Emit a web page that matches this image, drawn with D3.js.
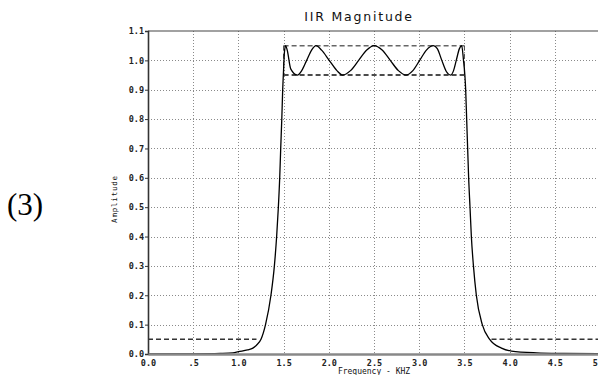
<!DOCTYPE html>
<html>
<head>
<meta charset="utf-8">
<script src="https://cdn.jsdelivr.net/npm/d3@7"></script>
<style>
  body { margin: 0; background: #fff; }
  svg { display: block; }
</style>
</head>
<body>
<div id="chart"></div>
<script>
// frequency (kHz) and magnitude
var freq = [0.0, 0.5, 0.8, 0.94, 1.0, 1.1, 1.16, 1.2, 1.25, 1.3, 1.36, 1.398, 1.423, 1.442, 1.457, 1.468, 1.48, 1.49,
  1.50, 1.51, 1.523, 1.54, 1.58, 1.652, 1.70, 1.755, 1.81, 1.858, 1.92, 2.005, 2.09, 2.153, 2.24, 2.33, 2.42, 2.50,
  2.59, 2.68, 2.77, 2.854, 2.93, 3.005, 3.08, 3.156, 3.20, 3.25, 3.30, 3.348, 3.38, 3.41, 3.445, 3.47, 3.49, 3.505,
  3.514, 3.525, 3.536, 3.547, 3.562, 3.577, 3.60, 3.632, 3.698, 3.78, 3.91, 4.02, 4.3, 4.6, 5.0];
var amplitude = [0.0, 0.0005, 0.002, 0.004, 0.008, 0.014, 0.02, 0.03, 0.05, 0.10, 0.20, 0.30, 0.40, 0.50, 0.60, 0.70, 0.80, 0.90,
  0.97, 1.03, 1.05, 1.035, 0.97, 0.95, 0.965, 1.0, 1.035, 1.05, 1.035, 1.0, 0.965, 0.95, 0.965, 1.0, 1.035, 1.05,
  1.035, 1.0, 0.965, 0.95, 0.965, 1.0, 1.035, 1.05, 1.04, 1.0, 0.962, 0.95, 0.965, 1.0, 1.04, 1.05, 1.0, 0.95,
  0.90, 0.80, 0.70, 0.60, 0.50, 0.40, 0.30, 0.20, 0.10, 0.05, 0.02, 0.01, 0.004, 0.002, 0.001];

// specification lines: passband 0.95..1.05 from 1.5 to 3.5, stopband 0.05
var passbandEdges = [1.5, 3.5];
var passbandLimits = [0.95, 1.05];
var stopbandLevel = 0.05;
var stopbandRanges = [[0.0, 1.2], [3.8, 5.0]];

var xTicks = [0.0, 0.5, 1.0, 1.5, 2.0, 2.5, 3.0, 3.5, 4.0, 4.5, 5.0];
var xTickLabels = ['0.0', '.5', '1.0', '1.5', '2.0', '2.5', '3.0', '3.5', '4.0', '4.5', '5.0'];
var yTicks = [0.0, 0.1, 0.2, 0.3, 0.4, 0.5, 0.6, 0.7, 0.8, 0.9, 1.0, 1.1];

var WIDTH = 598;
var HEIGHT = 375;
var PLOT = { left: 148, right: 600, top: 31, bottom: 354 };
var TICK_FONT = '"DejaVu Sans Mono", monospace';

var svg = d3.select('#chart').append('svg')
  .attr('width', WIDTH)
  .attr('height', HEIGHT);

var xScale = d3.scaleLinear().domain([0, 5]).range([PLOT.left, PLOT.right]);
var yScale = d3.scaleLinear().domain([0, 1.1]).range([PLOT.bottom, PLOT.top]);

/** grid */
var grid = svg.append('g')
  .attr('stroke', '#8a8a8a')
  .attr('stroke-width', 1)
  .attr('stroke-dasharray', '1,2');
grid.selectAll('.vgrid').data(xTicks.slice(1, -1)).enter().append('line')
  .attr('x1', function (d) { return Math.round(xScale(d)) + 0.5; })
  .attr('x2', function (d) { return Math.round(xScale(d)) + 0.5; })
  .attr('y1', PLOT.top)
  .attr('y2', PLOT.bottom);
grid.selectAll('.hgrid').data(yTicks.slice(1, -1)).enter().append('line')
  .attr('x1', PLOT.left)
  .attr('x2', PLOT.right)
  .attr('y1', function (d) { return Math.round(yScale(d)) + 0.5; })
  .attr('y2', function (d) { return Math.round(yScale(d)) + 0.5; });

/** spec lines */
var spec = svg.append('g')
  .attr('fill', 'none')
  .attr('stroke-width', 1.4)
  .attr('stroke-dasharray', '5,3');
spec.append('line')
  .attr('stroke', '#666')
  .attr('x1', xScale(passbandEdges[0])).attr('x2', xScale(passbandEdges[1]))
  .attr('y1', yScale(passbandLimits[1])).attr('y2', yScale(passbandLimits[1]));
spec.append('line')
  .attr('stroke', '#111')
  .attr('x1', xScale(passbandEdges[0])).attr('x2', xScale(passbandEdges[1]))
  .attr('y1', yScale(passbandLimits[0])).attr('y2', yScale(passbandLimits[0]));
spec.selectAll('.edge').data(passbandEdges).enter().append('line')
  .attr('stroke', '#444')
  .attr('stroke-dasharray', null)
  .attr('stroke-width', 1)
  .attr('x1', function (d) { return xScale(d); })
  .attr('x2', function (d) { return xScale(d); })
  .attr('y1', yScale(passbandLimits[1]))
  .attr('y2', yScale(passbandLimits[0]));
spec.selectAll('.stop').data(stopbandRanges).enter().append('line')
  .attr('stroke', '#333')
  .attr('x1', function (d) { return xScale(d[0]); })
  .attr('x2', function (d) { return xScale(d[1]); })
  .attr('y1', yScale(stopbandLevel))
  .attr('y2', yScale(stopbandLevel));

/** response curve */
var points = freq.map(function (f, i) { return [f, amplitude[i]]; });
var line = d3.line()
  .x(function (d) { return xScale(d[0]); })
  .y(function (d) { return yScale(d[1]); })
  .curve(d3.curveMonotoneX);
svg.append('path')
  .datum(points)
  .attr('fill', 'none')
  .attr('stroke', '#000')
  .attr('stroke-width', 1.3)
  .attr('d', line);

/** frame and axes */
svg.append('line')
  .attr('x1', PLOT.left).attr('x2', PLOT.right)
  .attr('y1', PLOT.top).attr('y2', PLOT.top)
  .attr('stroke', '#444').attr('stroke-width', 1.2);

var yAxis = svg.append('g')
  .attr('transform', 'translate(' + PLOT.left + ',0)')
  .call(d3.axisLeft(yScale).tickValues(yTicks).tickFormat(d3.format('.1f')).tickSize(3).tickPadding(1));
yAxis.select('.domain').attr('stroke', '#333').attr('stroke-width', 1.6);
yAxis.selectAll('.tick line').attr('stroke', '#333');
yAxis.selectAll('text')
  .attr('font-family', TICK_FONT)
  .attr('font-size', 8.5)
  .attr('font-weight', 'bold')
  .attr('fill', '#222');

var xAxis = svg.append('g')
  .attr('transform', 'translate(0,' + PLOT.bottom + ')')
  .call(d3.axisBottom(xScale).tickValues(xTicks)
    .tickFormat(function (d, i) { return xTickLabels[i]; }).tickSize(0).tickPadding(6));
xAxis.select('.domain').attr('stroke', '#888').attr('stroke-width', 2.5);
xAxis.selectAll('text')
  .attr('font-family', TICK_FONT)
  .attr('font-size', 8.5)
  .attr('font-weight', 'bold')
  .attr('fill', '#222');

/** labels */
svg.append('text')
  .attr('x', 359)
  .attr('y', 21)
  .attr('text-anchor', 'middle')
  .attr('font-family', '"DejaVu Sans", sans-serif')
  .attr('font-size', 12.5)
  .attr('letter-spacing', 1.8)
  .attr('fill', '#111')
  .text('IIR Magnitude');

svg.append('text')
  .attr('x', 374)
  .attr('y', 374)
  .attr('text-anchor', 'middle')
  .attr('font-family', TICK_FONT)
  .attr('font-size', 8)
  .attr('fill', '#111')
  .text('Frequency - KHZ');

svg.append('text')
  .attr('transform', 'translate(117,199) rotate(-90)')
  .attr('text-anchor', 'middle')
  .attr('font-family', TICK_FONT)
  .attr('font-size', 7.5)
  .attr('letter-spacing', 0.8)
  .attr('fill', '#111')
  .text('Amplitude');

svg.append('text')
  .attr('x', 7)
  .attr('y', 215)
  .attr('font-family', '"Liberation Serif", "DejaVu Serif", serif')
  .attr('font-size', 31)
  .attr('fill', '#000')
  .text('(3)');
</script>
</body>
</html>
